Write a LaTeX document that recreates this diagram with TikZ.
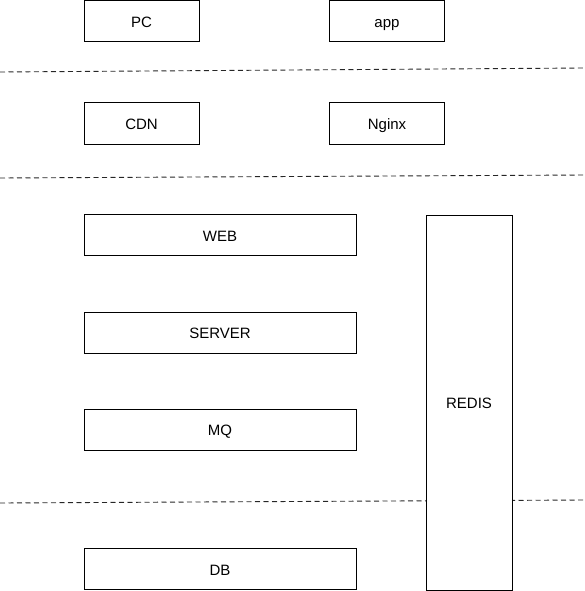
\documentclass[tikz,border=0pt]{standalone}
\usepackage{fontspec}
\setmainfont{Liberation Sans}
\usetikzlibrary{positioning}
\tikzset{
        layerbox/.style={align=center, inner sep=0pt, rectangle, draw=black, fill=white, line width=1pt, text height=12.5pt, text depth=0pt, font=\fontsize{15}{17}\selectfont},
        % Small boxes in the top layers
        box_small/.style={layerbox, minimum width=115pt, minimum height=41pt},
        % Wide boxes in the service layer
        box_wide/.style={layerbox, minimum width=272pt, minimum height=41pt},
        % Tall cache box
        box_tall/.style={layerbox, minimum width=86pt, minimum height=375pt},
        % Layer separators
        separator/.style={dashed, dash pattern=on 5pt off 3.5pt, line width=0.9pt, black!85}
}
\begin{document}
\begin{tikzpicture}[x=1pt, y=-1pt]
            \useasboundingbox (0,0) rectangle (585,591);
            % separators
            \coordinate (s1l) at (0,72);   \coordinate (s1r) at (585,68);
            \coordinate (s2l) at (0,178);  \coordinate (s2r) at (585,175);
            \coordinate (s3l) at (0,503);  \coordinate (s3r) at (585,500);
            \draw[separator] (s1l) -- (s1r);
            \draw[separator] (s2l) -- (s2r);
            \draw[separator] (s3l) -- (s3r);
            % clients
            \node[box_small] (pc) at (141.5,21) {PC};
            \node[box_small] (app) at (387,21) {app};
            % access layer
            \node[box_small] (cdn) at (141.5,123.5) {CDN};
            \node[box_small] (nginx) at (387,123.5) {Nginx};
            % service layer
            \node[box_wide] (web) at (220,235) {WEB};
            \node[box_wide] (server) at (220,332.5) {SERVER};
            \node[box_wide] (mq) at (220,429.5) {MQ};
            \node[box_tall] (redis) at (469,402.5) {REDIS};
            % storage
            \node[box_wide] (db) at (220,569) {DB};
        \end{tikzpicture}
\end{document}
